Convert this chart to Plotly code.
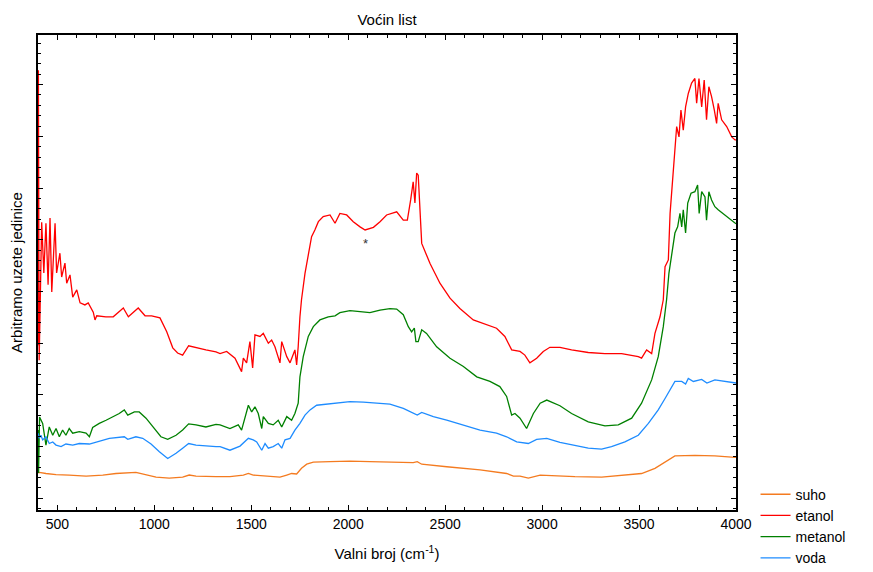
import plotly.graph_objects as go

# ---- data (wavenumber cm^-1, arbitrary units) ----
etanol_x = [400, 402, 406, 419, 430, 441, 452, 462, 471, 488, 496, 513, 522, 539, 548, 565, 579, 600, 617, 642,
            659, 685, 694, 703, 750, 788, 840, 866, 917, 952, 986, 1029, 1064, 1095, 1120, 1146, 1177, 1215, 1266, 1318,
            1339, 1373, 1416, 1450, 1459, 1476, 1493, 1507, 1519, 1545, 1562, 1588, 1605, 1622, 1648, 1657, 1683, 1700, 1725, 1734,
            1742, 1751, 1759, 1777, 1794, 1811, 1828, 1846, 1871, 1906, 1932, 1957, 1992, 2026, 2061, 2087, 2130, 2164, 2198, 2250,
            2284, 2305, 2322, 2335, 2344, 2353, 2361, 2370, 2379, 2422, 2473, 2525, 2576, 2645, 2714, 2765, 2808, 2843, 2886, 2911,
            2937, 2972, 3006, 3040, 3092, 3152, 3238, 3324, 3410, 3496, 3513, 3539, 3565, 3582, 3608, 3625, 3634, 3651, 3660, 3677,
            3685, 3694, 3706, 3716, 3728, 3740, 3754, 3771, 3788, 3797, 3809, 3823, 3836, 3848, 3860, 3874, 3888, 3900, 3908, 3926,
            3952, 3978, 3995, 4000]
etanol_y = [2.96, 8.28, 2.67, 5.34, 4.36, 5.32, 4.13, 5.42, 3.99, 5.32, 4.36, 4.74, 4.28, 4.55, 4.16, 4.32, 3.89, 4.03, 3.78, 3.74,
            3.78, 3.60, 3.45, 3.53, 3.51, 3.51, 3.68, 3.51, 3.68, 3.53, 3.53, 3.49, 3.22, 2.91, 2.81, 2.77, 2.95, 2.91, 2.87, 2.83,
            2.80, 2.84, 2.71, 2.45, 2.71, 2.62, 3.03, 2.52, 3.16, 3.13, 3.19, 3.00, 3.06, 2.93, 2.62, 3.03, 2.74, 2.62, 2.87, 2.58,
            2.93, 3.51, 3.84, 4.35, 4.67, 5.06, 5.19, 5.35, 5.45, 5.48, 5.32, 5.51, 5.48, 5.35, 5.25, 5.19, 5.24, 5.35, 5.48, 5.54,
            5.38, 5.38, 5.77, 6.12, 5.71, 6.29, 6.25, 5.58, 4.93, 4.54, 4.16, 3.87, 3.67, 3.45, 3.35, 3.29, 3.13, 2.87, 2.84, 2.77,
            2.62, 2.71, 2.84, 2.92, 2.92, 2.87, 2.82, 2.80, 2.80, 2.74, 2.71, 2.87, 2.80, 3.19, 3.51, 3.84, 4.48, 4.61, 5.51, 6.41,
            6.87, 7.19, 6.99, 7.51, 7.12, 7.57, 7.83, 8.03, 8.12, 7.64, 8.12, 7.57, 8.09, 7.32, 7.96, 7.77, 7.51, 7.25, 7.64, 7.32,
            7.19, 6.99, 6.93, 6.93]

metanol_x = [400, 403, 408, 424, 441, 458, 476, 493, 510, 527, 544, 561, 579, 613, 648, 665, 682, 716, 751, 785,
             819, 845, 863, 897, 922, 957, 1000, 1034, 1069, 1112, 1146, 1177, 1215, 1266, 1318, 1339, 1390, 1433, 1450, 1467,
             1485, 1502, 1519, 1536, 1554, 1562, 1588, 1613, 1639, 1657, 1683, 1708, 1725, 1742, 1751, 1768, 1794, 1820, 1854, 1897,
             1932, 1957, 2009, 2061, 2112, 2164, 2215, 2250, 2284, 2310, 2327, 2341, 2349, 2361, 2379, 2404, 2456, 2525, 2594, 2663,
             2731, 2782, 2817, 2843, 2860, 2886, 2920, 2955, 2990, 3024, 3092, 3152, 3238, 3324, 3393, 3462, 3513, 3565, 3599, 3625,
             3642, 3654, 3668, 3685, 3699, 3711, 3720, 3728, 3740, 3751, 3768, 3788, 3802, 3810, 3823, 3840, 3848, 3860, 3874, 3891,
             3908, 3943, 3995, 4000]
metanol_y = [1.32, 0.49, 1.57, 1.45, 1.03, 1.38, 1.22, 1.35, 1.19, 1.32, 1.22, 1.35, 1.26, 1.29, 1.26, 1.19, 1.37, 1.45, 1.51, 1.58,
             1.64, 1.71, 1.61, 1.67, 1.67, 1.55, 1.35, 1.19, 1.14, 1.22, 1.32, 1.44, 1.42, 1.38, 1.43, 1.42, 1.35, 1.42, 1.32, 1.58,
             1.80, 1.67, 1.77, 1.64, 1.35, 1.58, 1.45, 1.42, 1.51, 1.38, 1.58, 1.51, 1.64, 1.84, 2.35, 2.74, 3.13, 3.32, 3.45, 3.51,
             3.53, 3.59, 3.63, 3.61, 3.59, 3.64, 3.67, 3.66, 3.55, 3.32, 3.22, 3.29, 3.03, 3.03, 3.26, 3.19, 2.93, 2.71, 2.55, 2.35,
             2.26, 2.16, 1.97, 1.61, 1.64, 1.55, 1.35, 1.64, 1.84, 1.90, 1.79, 1.64, 1.48, 1.40, 1.42, 1.55, 1.84, 2.29, 2.74, 3.32,
             3.84, 4.35, 4.74, 5.13, 5.25, 5.51, 5.25, 5.58, 5.13, 5.71, 5.90, 5.93, 6.06, 5.51, 5.93, 5.83, 5.38, 5.93, 5.77, 5.64,
             5.58, 5.48, 5.32, 5.31]

voda_x = [400, 407, 415, 424, 441, 458, 476, 493, 519, 544, 579, 613, 665, 716, 768, 845, 863, 905, 940, 983,
          1026, 1069, 1112, 1146, 1177, 1215, 1266, 1318, 1339, 1390, 1442, 1485, 1510, 1528, 1554, 1571, 1588, 1613, 1639, 1657,
          1674, 1700, 1725, 1751, 1777, 1803, 1837, 1880, 1940, 2009, 2078, 2146, 2215, 2284, 2335, 2356, 2379, 2439, 2508, 2594,
          2680, 2765, 2817, 2869, 2929, 2972, 3024, 3092, 3152, 3238, 3307, 3358, 3427, 3496, 3548, 3599, 3634, 3660, 3685, 3720,
          3740, 3754, 3780, 3823, 3850, 3891, 3995, 4000]
voda_y = [1.26, 1.16, 1.22, 1.13, 1.19, 1.06, 1.09, 1.03, 1.00, 1.05, 1.03, 1.06, 1.05, 1.11, 1.16, 1.19, 1.14, 1.19, 1.16, 1.05,
          0.90, 0.77, 0.87, 0.97, 1.06, 1.03, 1.01, 1.00, 1.00, 0.93, 1.01, 1.16, 1.13, 1.09, 0.93, 1.06, 0.97, 1.00, 1.06, 0.97,
          1.13, 1.16, 1.32, 1.45, 1.61, 1.71, 1.80, 1.82, 1.85, 1.87, 1.86, 1.84, 1.82, 1.74, 1.64, 1.61, 1.66, 1.58, 1.51, 1.42,
          1.32, 1.26, 1.19, 1.09, 1.06, 1.14, 1.16, 1.08, 1.03, 0.97, 0.95, 1.00, 1.09, 1.22, 1.45, 1.71, 1.93, 2.09, 2.26, 2.26,
          2.21, 2.32, 2.26, 2.30, 2.23, 2.29, 2.24, 2.23]

suho_x = [400, 407, 441, 493, 561, 648, 734, 802, 905, 940, 1009, 1077, 1146, 1180, 1215, 1318, 1390, 1459, 1485, 1510,
          1588, 1648, 1683, 1708, 1734, 1759, 1786, 1820, 1906, 2009, 2112, 2215, 2250, 2335, 2356, 2379, 2508, 2680, 2817, 2852,
          2886, 2929, 2990, 3092, 3169, 3307, 3410, 3513, 3582, 3634, 3685, 3788, 3891, 3995, 4000]
suho_y = [0.49, 0.50, 0.48, 0.46, 0.45, 0.43, 0.45, 0.48, 0.50, 0.47, 0.41, 0.39, 0.41, 0.45, 0.43, 0.42, 0.42, 0.45, 0.48, 0.45,
          0.42, 0.41, 0.45, 0.48, 0.47, 0.58, 0.66, 0.70, 0.71, 0.72, 0.71, 0.70, 0.69, 0.69, 0.71, 0.66, 0.61, 0.55, 0.48, 0.43,
          0.43, 0.39, 0.45, 0.43, 0.42, 0.41, 0.45, 0.48, 0.58, 0.71, 0.82, 0.83, 0.82, 0.79, 0.79]

series_names = ["suho", "etanol", "metanol", "voda"]
series_colors = ["#F47B20", "#FF0000", "#008000", "#1E8CFF"]
x_ticks = [500, 1000, 1500, 2000, 2500, 3000, 3500, 4000]
marker_label = "*"
marker_pos = (2091, 4.93)

font_family = "Liberation Sans, Arial, sans-serif"

fig = go.Figure()
data = [(suho_x, suho_y), (etanol_x, etanol_y), (metanol_x, metanol_y), (voda_x, voda_y)]
for (xs, ys), name, color in zip(data, series_names, series_colors):
    fig.add_trace(go.Scatter(x=xs, y=ys, mode="lines", name=name,
                             line=dict(color=color, width=1.3)))

fig.add_annotation(x=marker_pos[0], y=marker_pos[1], text=marker_label, showarrow=False,
                   font=dict(size=13, color="#333333", family=font_family))

fig.update_layout(
    width=873, height=572,
    margin=dict(l=38, r=137, t=35, b=62, autoexpand=False),
    paper_bgcolor="white", plot_bgcolor="white",
    font=dict(family=font_family, size=14, color="black"),
    title=dict(text="Voćin list", x=387 / 873, xanchor="center", y=1 - 20 / 572, yanchor="middle",
               yref="container", font=dict(size=15, color="black"), automargin=False),
    showlegend=True,
    legend=dict(x=1.028, y=0.066, xanchor="left", yanchor="top", font=dict(size=14),
                bgcolor="rgba(0,0,0,0)", tracegroupgap=0, itemwidth=30),
)
fig.update_xaxes(
    range=[400, 4000], tickvals=x_ticks, ticktext=[str(v) for v in x_ticks], automargin=False,
    ticks="inside", ticklen=5, tickwidth=1, tickcolor="black",
    showline=True, linecolor="black", linewidth=1.5, mirror="allticks",
    showgrid=False, zeroline=False, tickfont=dict(size=14),
    minor=dict(ticks="inside", ticklen=3, dtick=100, tick0=0, tickcolor="black", showgrid=False),
    title=dict(text="Valni broj (cm<sup>-1</sup>)", font=dict(size=15), standoff=18),
)
fig.update_yaxes(
    range=[-0.226, 8.96], dtick=1, tick0=0, showticklabels=False, automargin=False,
    ticks="inside", ticklen=5, tickwidth=1, tickcolor="black",
    showline=True, linecolor="black", linewidth=1.5, mirror="allticks",
    showgrid=False, zeroline=False,
    minor=dict(ticks="inside", ticklen=3, dtick=0.2, tick0=0, tickcolor="black", showgrid=False),
    title=dict(text="Arbitramo uzete jedinice", font=dict(size=15), standoff=10),
)

fig.write_html("out.html", config={"displayModeBar": False},
               post_script="document.body.style.margin='0px';")
